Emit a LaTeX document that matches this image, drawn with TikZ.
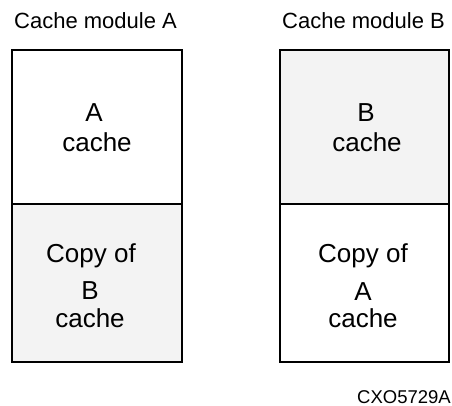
\documentclass[tikz,border=0pt]{standalone}
\usepackage{fontspec}
\setmainfont{Liberation Sans}
\definecolor{shade}{HTML}{F3F3F3}
\begin{document}
\begin{tikzpicture}[x=1pt,y=-1pt,
  cell/.style={draw=black,line width=2pt},
  lbl/.style={font=\fontsize{22}{26}\selectfont,anchor=base,inner sep=0pt},
  txt/.style={font=\fontsize{26}{30}\selectfont,anchor=base,inner sep=0pt},
  tag/.style={font=\fontsize{18.5}{22}\selectfont,anchor=base east,inner sep=0pt}]
\useasboundingbox (0,0) rectangle (452,406);
% module A
\node[lbl] (la) at (95.5,29) {Cache module A};
\path[cell,fill=white] (12,50) rectangle (182,204) coordinate (atop);
\path[cell,fill=shade] (12,204) rectangle (182,362) coordinate (abot);
\node[txt] (a1) at (94,122) {A};
\node[txt] (a2) at (97,152) {cache};
\node[txt] (a3) at (91,262) {Copy of};
\node[txt] (a4) at (90,299) {B};
\node[txt] (a5) at (90,327) {cache};
% module B
\node[lbl] (lb) at (363.5,29) {Cache module B};
\path[cell,fill=shade] (280,50) rectangle (449,204) coordinate (btop);
\path[cell,fill=white] (280,204) rectangle (449,362) coordinate (bbot);
\node[txt] (b1) at (366,122) {B};
\node[txt] (b2) at (367,152) {cache};
\node[txt] (b3) at (363,262) {Copy of};
\node[txt] (b4) at (363,300) {A};
\node[txt] (b5) at (363,327) {cache};
\node[tag] (id) at (451,403) {CXO5729A};
\end{tikzpicture}
\end{document}
